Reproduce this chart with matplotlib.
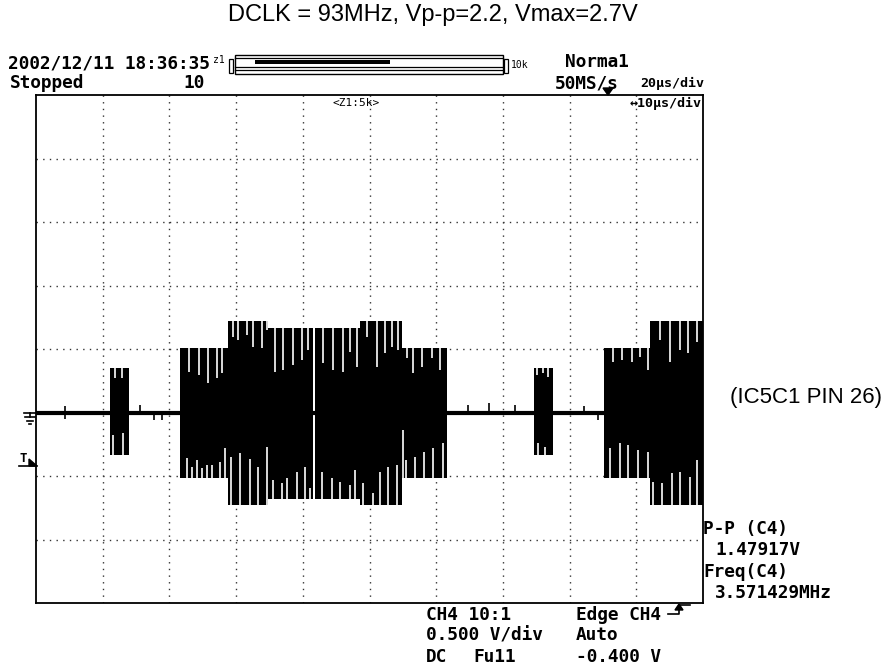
import numpy as np
import matplotlib
matplotlib.use('Agg')
import matplotlib.pyplot as plt
from matplotlib.lines import Line2D
from matplotlib.patches import Rectangle, Polygon
from matplotlib.transforms import Affine2D

W, H = 887, 667

# screen units are divisions: 10 across, 8 down; ground trace sits 1 div below centre
baseline_level = -1.0

# bursts on CH4 (x in div, y in div)
burst_start = [1.11, 2.16, 2.88, 3.48, 4.18, 4.86, 5.49, 7.47, 8.52, 9.21]
burst_end = [1.39, 2.88, 3.48, 4.15, 4.86, 5.49, 6.16, 7.75, 9.21, 10.0]
burst_top = [-0.30, 0.02, 0.44, 0.33, 0.33, 0.44, 0.02, -0.30, 0.02, 0.44]
burst_bottom = [-1.67, -2.03, -2.46, -2.36, -2.36, -2.46, -2.03, -1.67, -2.03, -2.46]

# white gaps hanging down from the top of a burst
top_notch_x = [1.18, 1.29, 2.29, 2.44, 2.58, 2.71, 2.79, 2.95, 3.03, 3.16, 3.25, 3.39,
               3.46, 3.58, 3.70, 3.85, 3.99, 4.08, 4.30, 4.45, 4.60, 4.71, 4.81, 4.96,
               5.11, 5.23, 5.34, 5.43, 5.56, 5.65, 5.79, 5.94, 6.06, 7.51, 7.60, 7.68,
               8.65, 8.79, 8.94, 9.06, 9.18, 9.36, 9.51, 9.66, 9.78, 9.91]
top_notch_y = [-0.46, -0.46, -0.36, -0.41, -0.54, -0.46, -0.38, 0.19, 0.14, 0.22, 0.03, 0.02,
               0.30, -0.36, -0.33, -0.25, -0.17, -0.02, -0.22, -0.33, -0.36, -0.05, -0.28, 0.19,
               -0.28, -0.06, 0.03, -0.02, -0.14, -0.38, -0.28, -0.14, -0.33, -0.41, -0.38, -0.44,
               -0.20, -0.17, -0.20, -0.13, -0.33, 0.14, -0.20, -0.02, -0.06, 0.11]

# white gaps rising from the bottom of a burst
bot_notch_x = [1.15, 1.30, 2.26, 2.34, 2.41, 2.49, 2.56, 2.64, 2.76, 2.83, 2.92, 3.06,
               3.21, 3.33, 3.46, 3.55, 3.69, 3.76, 3.91, 4.03, 4.11, 4.29, 4.44, 4.56,
               4.71, 4.78, 4.90, 5.05, 5.16, 5.28, 5.41, 5.50, 5.55, 5.68, 5.82, 5.95,
               6.10, 7.53, 7.63, 8.61, 8.76, 8.88, 9.03, 9.18, 9.25, 9.39, 9.54, 9.66,
               9.81, 9.91]
bot_notch_y = [-1.35, -1.32, -1.72, -1.86, -1.75, -1.87, -1.83, -1.83, -1.78, -1.56, -1.70, -1.64,
               -1.73, -1.86, -1.54, -2.06, -2.11, -2.03, -1.94, -1.86, -2.19, -1.94, -2.03, -2.09,
               -2.14, -1.91, -2.11, -2.27, -1.94, -1.86, -1.83, -1.28, -1.75, -1.70, -1.62, -1.56,
               -1.48, -1.48, -1.54, -1.56, -1.48, -1.51, -1.59, -1.62, -2.09, -2.11, -1.95, -1.94,
               -2.02, -1.75]

# little glitches on the idle trace
spike_x = [0.43, 1.56, 1.77, 1.89, 6.48, 6.79, 7.18, 8.22, 8.43]
spike_lo = [-1.10, -1.0, -1.12, -1.12, -1.0, -1.0, -1.0, -1.0, -1.12]
spike_hi = [-0.90, -0.88, -1.0, -1.0, -0.88, -0.85, -0.88, -0.90, -1.0]

title = "DCLK = 93MHz, Vp-p=2.2, Vmax=2.7V"
probe_label = "(IC5C1 PIN 26)"

SCOPE_FONT = dict(family='DejaVu Sans Mono', weight='bold', size=12.8)
SANS_FONT = dict(family='Liberation Sans', size=16)

fig = plt.figure(figsize=(W / 100, H / 100), dpi=100)
# pixel coordinates, origin top-left
pix = Affine2D().scale(1 / W, -1 / H).translate(0, 1) + fig.transFigure

ax = fig.add_axes([36 / W, 1 - 603 / H, (703 - 36) / W, (603 - 95) / H])
ax.set_xlim(0, 10)
ax.set_ylim(-4, 4)
ax.set_xticks(range(1, 10))
ax.set_yticks(range(-3, 4))
ax.tick_params(length=0, labelbottom=False, labelleft=False)
ax.grid(True, color='#333333', linewidth=1.0, linestyle=(0, (1, 3.8)))
ax.set_axisbelow(True)
for s in ax.spines.values():
    s.set_linewidth(1.3)

ax.axhline(baseline_level, color='black', linewidth=3, zorder=2)
ax.vlines(spike_x, spike_lo, spike_hi, color='black', linewidth=1.2, zorder=2)

starts = np.array(burst_start)
heights = np.array(burst_top) - np.array(burst_bottom)
widths = np.array(burst_end) - starts
ax.bar(starts, heights, width=widths, bottom=burst_bottom, align='edge',
       color='black', linewidth=0, zorder=3)

idx = np.searchsorted(starts, top_notch_x, side='right') - 1
ax.vlines(top_notch_x, top_notch_y, np.array(burst_top)[idx] + 0.02,
          color='white', linewidth=1.2, zorder=4)
idx = np.searchsorted(starts, bot_notch_x, side='right') - 1
ax.vlines(bot_notch_x, np.array(burst_bottom)[idx] - 0.02, bot_notch_y,
          color='white', linewidth=1.2, zorder=4)


def txt(x, y, s, ha='left', **kw):
    opts = dict(SCOPE_FONT)
    opts.update(kw)
    fig.text(x, y, s, transform=pix, ha=ha, va='center', **opts)


def seg(xs, ys, lw=1.2):
    fig.add_artist(Line2D(xs, ys, transform=pix, color='black', linewidth=lw))


fig.text(433, 15, title, transform=pix, ha='center', va='center',
         family='Liberation Sans', size=17)
fig.text(730, 397, probe_label, transform=pix, ha='left', va='center', **SANS_FONT)

# header
txt(8, 63, "2002/12/11 18:36:35")
txt(213, 60, "z1", size=7, weight='normal')
txt(10, 83, "Stopped")
txt(183, 83, "10")
txt(565, 62, "Norma1")
txt(555, 83, "50MS/s")
txt(640, 83, "20μs/div", size=9.6)
txt(630, 103, "↔10μs/div", size=9.6)
txt(356, 103, "<Z1:5k>", ha='center', size=8, weight='normal')
txt(511, 65, "10k", size=7, weight='normal')

# zoom window bar
fig.add_artist(Rectangle((235, 55), 268, 19, transform=pix, fill=False, lw=1.0, ec='black'))
for yy in (58, 67, 70):
    seg([235, 503], [yy, yy], lw=0.9)
fig.add_artist(Rectangle((255, 60), 135, 4, transform=pix, color='black', lw=0))
fig.add_artist(Rectangle((229, 59), 4, 14, transform=pix, fill=False, lw=0.9, ec='black'))
fig.add_artist(Rectangle((504, 59), 4, 14, transform=pix, fill=False, lw=0.9, ec='black'))

# trigger position marker
fig.add_artist(Polygon([(603, 88), (613, 88), (608, 95)], closed=True,
                       transform=pix, color='black'))

# ground marker
seg([24, 36], [413, 413])
seg([30, 30], [413, 417])
seg([25, 35], [417, 417])
seg([27, 33], [421, 421])
seg([29, 31], [424, 424])

# trigger level marker
txt(20, 458, "T", size=9)
fig.add_artist(Polygon([(29, 459), (37, 466), (29, 466)], closed=True,
                       transform=pix, color='black'))
seg([19, 37], [466, 466])

# measurements
txt(703, 529, "P-P (C4)")
txt(715, 550, "1.47917V")
txt(703, 572, "Freq(C4)")
txt(715, 593, "3.571429MHz")

# channel / trigger settings
txt(426, 615, "CH4 10:1")
txt(426, 635, "0.500 V/div")
txt(426, 657, "DC")
txt(473, 657, "Fu11")
txt(576, 615, "Edge CH4")
txt(576, 635, "Auto")
txt(576, 657, "-0.400 V")

# rising-edge symbol
seg([668, 679, 679, 690], [614, 614, 605, 605])
fig.add_artist(Polygon([(675, 610), (683, 610), (679, 604)], closed=True,
                       transform=pix, color='black'))

fig.savefig("out.png", dpi=100)
